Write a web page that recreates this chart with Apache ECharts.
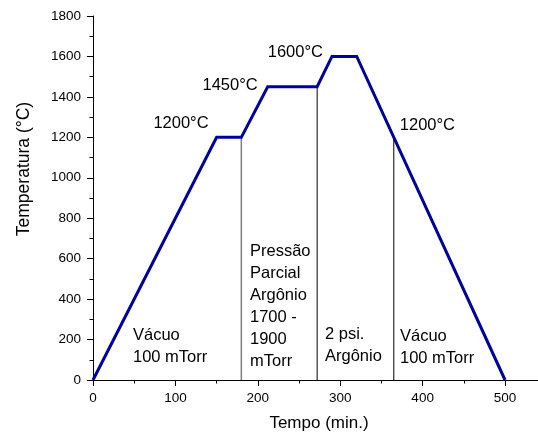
<!DOCTYPE html>
<html>
<head>
<meta charset="utf-8">
<script src="https://cdn.jsdelivr.net/npm/echarts@6/dist/echarts.min.js"></script>
<style>
  html, body { margin: 0; padding: 0; background: #fff; }
  #chart { width: 538px; height: 435px; }
</style>
</head>
<body>
<div id="chart"></div>
<script>
// Sintering temperature profile (time in minutes, temperature in °C)
const profileTimes = [0, 150, 180, 212, 272, 290, 320, 500];
const profileTemps = [0, 1200, 1200, 1450, 1450, 1600, 1600, 0];

// Vertical separators between atmosphere stages
const dividerTimes = [180, 272, 365];
const dividerTemps = [1200, 1450, 1200];

// Plateau / transition temperature labels
const peakLabels = ['1200°C', '1450°C', '1600°C', '1200°C'];
const peakTimes = [150, 212, 290, 365];
const peakTemps = [1200, 1450, 1600, 1200];

// Atmosphere description for each stage
const stageTexts = [
  'Vácuo\n100 mTorr',
  'Pressão\nParcial\nArgônio\n1700 -\n1900\nmTorr',
  '2 psi.\nArgônio',
  'Vácuo\n100 mTorr'
];

// Axis ticks
const xTickValues = [0, 100, 200, 300, 400, 500];
const xMinorTickValues = [50, 150, 250, 350, 450];
const yTickValues = [0, 200, 400, 600, 800, 1000, 1200, 1400, 1600, 1800];
const xAxisMax = 540;

const FONT = 'Liberation Sans, Arial, sans-serif';
const chart = echarts.init(document.getElementById('chart'), null, { renderer: 'canvas' });

const profileData = profileTimes.map((t, i) => [t, profileTemps[i]]);
const dividerSeries = dividerTimes.map((t, i) => ({
  type: 'line',
  data: [[t, 0], [t, dividerTemps[i]]],
  symbol: 'none',
  silent: true,
  z: 1,
  lineStyle: { color: i === 0 ? '#7f7f7f' : '#000', width: i === 0 ? 1.5 : 1 }
}));

const labelStyle = { color: '#000', fontFamily: FONT, fontSize: 13.5 };
const tickStyle = { color: '#000', width: 1 };

chart.setOption({
  animation: false,
  backgroundColor: '#fff',
  grid: { left: 93, top: 16, width: 445, height: 364 },
  xAxis: [{
    type: 'value',
    min: 0,
    max: xAxisMax,
    axisLine: { show: true, lineStyle: { color: '#000', width: 1 } },
    axisTick: { show: true, length: 6, lineStyle: tickStyle, customValues: xTickValues },
    axisLabel: Object.assign({}, labelStyle, { margin: 11, customValues: xTickValues, formatter: v => String(v) }),
    splitLine: { show: false }
  }, {
    // minor ticks only
    type: 'value',
    min: 0,
    max: xAxisMax,
    position: 'bottom',
    axisLine: { show: false },
    axisTick: { show: true, length: 3.5, lineStyle: tickStyle, customValues: xMinorTickValues },
    axisLabel: { show: false },
    splitLine: { show: false }
  }],
  yAxis: {
    type: 'value',
    min: yTickValues[0],
    max: yTickValues[yTickValues.length - 1],
    interval: yTickValues[1] - yTickValues[0],
    axisLine: { show: true, lineStyle: { color: '#000', width: 1 } },
    axisTick: { show: true, length: 6, lineStyle: tickStyle },
    minorTick: { show: true, splitNumber: 2, length: 3.5, lineStyle: tickStyle },
    axisLabel: Object.assign({}, labelStyle, { margin: 12, formatter: v => String(v) }),
    splitLine: { show: false }
  },
  series: dividerSeries.concat([{
    type: 'line',
    data: profileData,
    symbol: 'none',
    z: 3,
    lineStyle: { color: '#0000a0', width: 3, join: 'miter' }
  }])
});

// Place labels relative to the values they describe
const px = (t, v) => chart.convertToPixel({ gridIndex: 0 }, [t, v]);
const peakOffsets = [[-8, -13.5, 'right'], [-10, -1.5, 'right'], [-9, -3.5, 'right'], [6, -12, 'left']];
const stagePos = [[133, 324.5], [250, 240], [325, 323], [400, 325]];

const graphics = [];
peakLabels.forEach((txt, i) => {
  const p = px(peakTimes[i], peakTemps[i]);
  const o = peakOffsets[i];
  graphics.push({
    type: 'text', x: p[0] + o[0], y: p[1] + o[1], silent: true,
    style: { text: txt, fill: '#000', font: '16.5px ' + FONT, textAlign: o[2], textVerticalAlign: 'middle' }
  });
});
stageTexts.forEach((txt, i) => {
  graphics.push({
    type: 'text', x: stagePos[i][0], y: stagePos[i][1], silent: true,
    style: { text: txt, fill: '#000', font: '16.5px ' + FONT, lineHeight: 22, textAlign: 'left', textVerticalAlign: 'top' }
  });
});
graphics.push({
  type: 'text', x: 319, y: 423, silent: true,
  style: { text: 'Tempo (min.)', fill: '#000', font: '17px ' + FONT, textAlign: 'center', textVerticalAlign: 'middle' }
});
graphics.push({
  type: 'text', x: 24, y: 169, rotation: Math.PI / 2, silent: true,
  style: { text: 'Temperatura (°C)', fill: '#000', font: '17.5px ' + FONT, textAlign: 'center', textVerticalAlign: 'middle' }
});
chart.setOption({ graphic: graphics });
</script>
</body>
</html>
